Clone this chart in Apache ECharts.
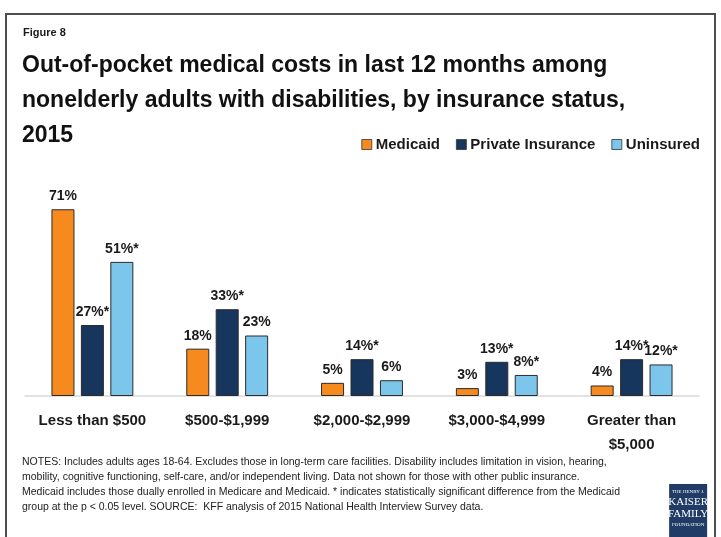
<!DOCTYPE html>
<html>
<head>
<meta charset="utf-8">
<script src="https://cdn.jsdelivr.net/npm/echarts@6/dist/echarts.min.js"></script>
<style>
html,body{margin:0;padding:0;background:#fff;}
#chart{width:721px;height:537px;}
</style>
</head>
<body>
<div id="chart"></div>
<script>
// Cost brackets and share of adults in each, by insurance status
const categories = ['Less than $500', '$500-$1,999', '$2,000-$2,999', '$3,000-$4,999', 'Greater than\n$5,000'];
const medicaid = [71, 18, 5, 3, 4];
const privateIns = [27, 33, 14, 13, 14];
const uninsured = [51, 23, 6, 8, 12];
// Significant difference from Medicaid (marked with *)
const privateSig = [true, true, true, true, true];
const uninsuredSig = [true, false, false, true, true];

const FONT = '"Liberation Sans", Arial, sans-serif';

function labelFor(sig) {
  return {
    show: true,
    position: 'top',
    distance: 6,
    color: '#1a1a1a',
    fontFamily: FONT,
    fontWeight: 'bold',
    fontSize: 14,
    formatter: function (p) {
      return p.value + '%' + (sig && sig[p.dataIndex] ? '*' : '');
    }
  };
}

function barSeries(name, data, color, sig) {
  return {
    name: name,
    type: 'bar',
    data: data,
    barWidth: 23,
    barGap: '28%',
    itemStyle: { color: color, borderColor: '#2b2b2b', borderWidth: 1 },
    label: labelFor(sig)
  };
}

const chart = echarts.init(document.getElementById('chart'), null, { renderer: 'canvas' });
chart.setOption({
  animation: false,
  backgroundColor: '#ffffff',
  title: [
    {
      text: 'Figure 8',
      left: 18, top: 22,
      textStyle: { fontFamily: FONT, fontWeight: 'bold', fontSize: 11, color: '#1a1a1a' }
    },
    {
      text: 'Out-of-pocket medical costs in last 12 months among\nnonelderly adults with disabilities, by insurance status,\n2015',
      left: 17, top: 43,
      textStyle: { fontFamily: FONT, fontWeight: 'bold', fontSize: 23, lineHeight: 35, color: '#111' }
    },
    {
      text: 'NOTES: Includes adults ages 18-64. Excludes those in long-term care facilities. Disability includes limitation in vision, hearing,\nmobility, cognitive functioning, self-care, and/or independent living. Data not shown for those with other public insurance.\nMedicaid includes those dually enrolled in Medicare and Medicaid. * indicates statistically significant difference from the Medicaid\ngroup at the p < 0.05 level. SOURCE:  KFF analysis of 2015 National Health Interview Survey data.',
      left: 17, top: 450,
      textStyle: { fontFamily: FONT, fontWeight: 'normal', fontSize: 10.5, lineHeight: 15, color: '#222' }
    }
  ],
  legend: {
    data: ['Medicaid', 'Private Insurance', 'Uninsured'],
    right: 16, top: 132,
    itemWidth: 10, itemHeight: 10, itemGap: 16,
    icon: 'rect',
    itemStyle: { borderColor: '#333', borderWidth: 0.8 },
    textStyle: { fontFamily: FONT, fontWeight: 'bold', fontSize: 15, color: '#1a1a1a', padding: [0, 0, 0, -1] }
  },
  grid: { left: 25, right: 22, top: 185.6, bottom: 141 },
  xAxis: {
    type: 'category',
    data: categories,
    axisLine: { lineStyle: { color: '#d9d9d9', width: 1.5 } },
    axisTick: { show: false },
    axisLabel: {
      margin: 13, interval: 0,
      fontFamily: FONT, fontWeight: 'bold', fontSize: 15, lineHeight: 24, color: '#1a1a1a'
    }
  },
  yAxis: {
    type: 'value', min: 0, max: 80,
    show: false,
    splitLine: { show: false }
  },
  series: [
    barSeries('Medicaid', medicaid, '#f78a1f', null),
    barSeries('Private Insurance', privateIns, '#17365d', privateSig),
    barSeries('Uninsured', uninsured, '#7cc6ec', uninsuredSig)
  ],
  graphic: [
    {
      type: 'rect', silent: true,
      shape: { x: 6, y: 14, width: 709, height: 540 },
      style: { fill: 'none', stroke: '#4d4d4d', lineWidth: 2 }
    },
    {
      type: 'group', left: 668, top: 484, silent: true,
      children: [
        { type: 'rect', shape: { x: 0, y: 0, width: 38, height: 55 }, style: { fill: '#1f3b66' } },
        { type: 'text', x: 19, y: 5, style: { text: 'THE HENRY J.', fill: '#fff', fontSize: 5, fontFamily: 'Liberation Serif', textAlign: 'center' } },
        { type: 'text', x: 19, y: 13, style: { text: 'KAISER', fill: '#fff', fontSize: 11, fontFamily: 'Liberation Serif', textAlign: 'center' } },
        { type: 'text', x: 19, y: 25, style: { text: 'FAMILY', fill: '#fff', fontSize: 11, fontFamily: 'Liberation Serif', textAlign: 'center' } },
        { type: 'text', x: 19, y: 38, style: { text: 'FOUNDATION', fill: '#fff', fontSize: 5, fontFamily: 'Liberation Serif', textAlign: 'center' } }
      ]
    }
  ]
});
</script>
</body>
</html>
